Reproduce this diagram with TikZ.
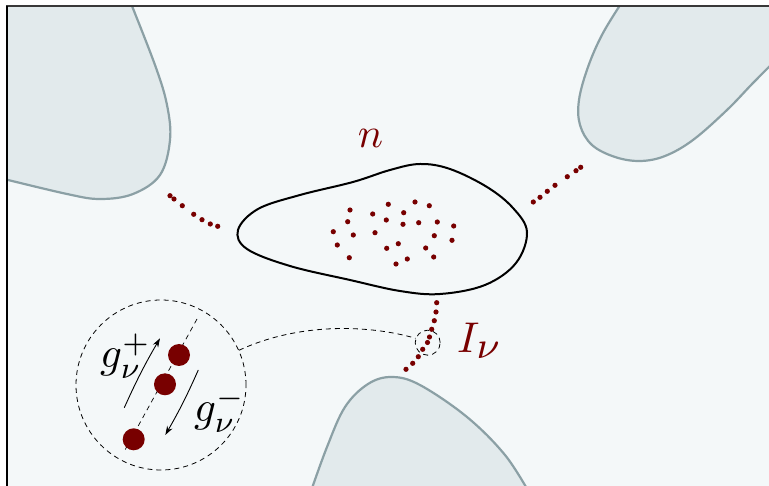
\documentclass[tikz,border=0pt]{standalone}
\usetikzlibrary{arrows.meta}
\definecolor{bgc}{HTML}{F4F8F9}
\definecolor{blobfill}{HTML}{E2EAEC}
\definecolor{blobline}{HTML}{8BA0A5}
\definecolor{dotred}{HTML}{780000}
\tikzset{
  bloboutline/.style={draw=blobline, line width=2.2pt},
  smalldot/.style={fill=dotred},
  conn/.style={dashed, dash pattern=on 5pt off 4pt, line width=0.8pt, black},
  arr/.style={line width=0.9pt, -{Stealth[length=9pt,width=6pt]}},
  lbl/.style={text=dotred, inner sep=0pt},
  glbl/.style={text=black, inner sep=0pt},
}
\begin{document}
\begin{tikzpicture}[x=1pt,y=-1pt]
\useasboundingbox (0,0) rectangle (769,486);
\fill[bgc] (7,7) rectangle (769,486);
\begin{scope}
\clip (7,7) rectangle (769,486);
% top-left blob
\fill[blobfill] plot[smooth, tension=0.6] coordinates {(128,-4) (155,65) (167,105) (170,140) (160,175) (133,194) (100,199) (67,194) (0,178)} -- (0,0) -- cycle;
\draw[bloboutline] plot[smooth, tension=0.6] coordinates {(128,-4) (155,65) (167,105) (170,140) (160,175) (133,194) (100,199) (67,194) (0,178)};
% top-right blob
\fill[blobfill] plot[smooth, tension=0.6] coordinates {(626,-4) (603,33) (588,67) (579,100) (580,125) (592,145) (615,157) (640,161) (665,156) (693,140) (727,110) (753,83) (776,60)} -- (776,0) -- cycle;
\draw[bloboutline] plot[smooth, tension=0.6] coordinates {(626,-4) (603,33) (588,67) (579,100) (580,125) (592,145) (615,157) (640,161) (665,156) (693,140) (727,110) (753,83) (776,60)};
% bottom blob
\fill[blobfill] plot[smooth, tension=0.6] coordinates {(310,494) (327,447) (345,407) (368,384) (392,377) (420,385) (467,417) (505,455) (530,494)} -- cycle;
\draw[bloboutline] plot[smooth, tension=0.6] coordinates {(310,494) (327,447) (345,407) (368,384) (392,377) (420,385) (467,417) (505,455) (530,494)};
\end{scope}
% frame
\draw[line width=2pt, black!78] (6,6.5) -- (769,6.5);
\draw[line width=2pt, black] (6.5,6) -- (6.5,486);
% central blob
\draw[line width=2pt, black] plot[smooth cycle, tension=0.6] coordinates {(238,230) (258,209) (300,195) (353,182) (390,170) (420,164) (450,169) (487,187) (513,208) (527,232) (516,263) (485,285) (440,294) (400,291) (350,280) (290,266) (247,249)};
% dots inside
\foreach \p in {(350,210),(347.7,221.7),(333.3,231.7),(353.3,235),(337.3,245),(349.3,257.7),(372.7,214),(375,232.7),(388.3,204.3),(386.3,220),(403.7,212.7),(403,224.3),(415,202),(429.3,205.7),(418.7,222.7),(437.3,222),(453.7,226),(434.3,235.7),(452,240.3),(398.3,243.7),(386.7,248.3),(425.7,248),(433.7,257),(407.3,259),(396,264)}
  \fill[smalldot] \p circle (2.6);
% dotted chains
\foreach \p in {(170,195.7),(174,199),(182.3,205.7),(193.7,214.3),(202,219.7),(210.3,224),(217.7,226.3)}
  \fill[smalldot] \p circle (2.6);
\foreach \p in {(580.7,167.3),(576,170.7),(567.3,176.7),(555,185.3),(547.3,191.3),(540,197.3),(533.3,202)}
  \fill[smalldot] \p circle (2.6);
\foreach \p in {(436.7,302.7),(436,312),(434.3,320.7),(431.7,329.3),(429.5,337),(427.5,342.5),(422.7,349.3),(418.3,356.7),(412.7,363.3),(406,369.3)}
  \fill[smalldot] \p circle (2.6);
% labels
\node[lbl, anchor=base] (nlbl) at (370.5,148) {\scalebox{4.2}{$n$}};
\node[lbl, anchor=base west] (Ilbl) at (457,352.5) {\scalebox{4.3}{$I_{\scalebox{1.25}{$\scriptstyle\nu$}}$}};
% magnifier
\node[circle, draw, conn, minimum size=170pt, inner sep=0pt] (lens) at (161,385) {};
\node[circle, draw, conn, minimum size=25pt, inner sep=0pt] (spot) at (427.7,342.7) {};
\draw[conn] (lens.24) .. controls (300,322) and (370,325) .. (spot.160);
\draw[dashed, dash pattern=on 5pt off 4pt, line width=0.7pt] (197,319) -- (125,450);
\fill[dotred] (179,355) circle (11);
\fill[dotred] (165,384.3) circle (11);
\fill[dotred] (133.7,439.3) circle (11);
\coordinate (upA) at (124.3,407.7);
\coordinate (upB) at (160,338.3);
\coordinate (dnA) at (198.3,370);
\coordinate (dnB) at (165.3,435);
\draw[arr] (upA) to[bend left=3] (upB);
\draw[arr] (dnA) to[bend left=3] (dnB);
\node[glbl, anchor=base west] (gp) at (100,368) {\scalebox{4.3}{$g_\nu^+$}};
\node[glbl, anchor=base west] (gm) at (194,421.7) {\scalebox{4.3}{$g_\nu^-$}};
\end{tikzpicture}
\end{document}
